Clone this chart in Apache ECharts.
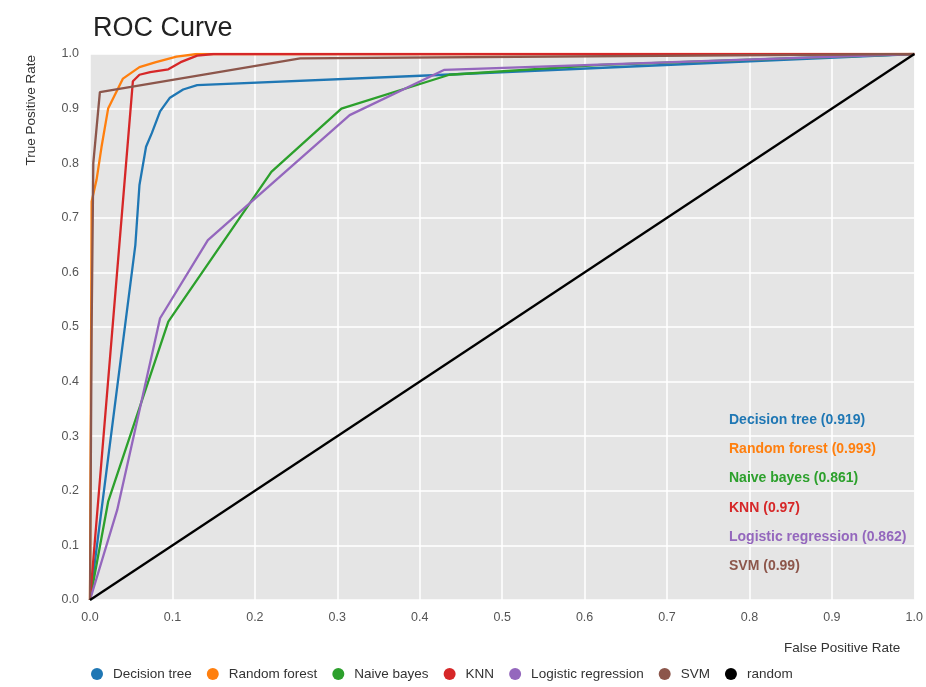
<!DOCTYPE html>
<html><head><meta charset="utf-8">
<script src="https://cdn.jsdelivr.net/npm/echarts@6/dist/echarts.min.js"></script>
<style>html,body{margin:0;padding:0;background:#fff}#c{width:926px;height:687px}</style>
</head><body><div id="c"></div>
<script>
const seriesNames = ['Decision tree','Random forest','Naive bayes','KNN','Logistic regression','SVM','random'];
const aucValues = [0.919, 0.993, 0.861, 0.97, 0.862, 0.99];
const colors = ['#1f77b4','#ff7f0e','#2ca02c','#d62728','#9467bd','#8c564b','#000000'];
const decisionTree = [[0,0],[0.055,0.65],[0.06,0.76],[0.068,0.83],[0.075,0.855],[0.085,0.895],[0.097,0.92],[0.113,0.935],[0.13,0.943],[0.43,0.962],[1,1]];
const randomForest = [[0,0],[0.002,0.73],[0.008,0.77],[0.014,0.83],[0.022,0.9],[0.04,0.955],[0.06,0.976],[0.08,0.985],[0.105,0.995],[0.13,1],[1,1]];
const naiveBayes = [[0,0],[0.022,0.18],[0.095,0.51],[0.22,0.784],[0.305,0.9],[0.436,0.962],[0.62,0.98],[1,1]];
const knn = [[0,0],[0.052,0.95],[0.06,0.962],[0.073,0.967],[0.095,0.972],[0.11,0.985],[0.13,0.997],[0.15,1],[1,1]];
const logisticRegression = [[0,0],[0.033,0.165],[0.085,0.516],[0.143,0.659],[0.315,0.888],[0.43,0.971],[1,1]];
const svm = [[0,0],[0.002,0.5],[0.004,0.8],[0.012,0.93],[0.255,0.992],[1,1]];
const randomLine = [[0,0],[1,1]];
const allData = [decisionTree, randomForest, naiveBayes, knn, logisticRegression, svm, randomLine];
const tickLabels = ['0.0','0.1','0.2','0.3','0.4','0.5','0.6','0.7','0.8','0.9','1.0'];

const chart = echarts.init(document.getElementById('c'));
const FONT = 'Liberation Sans, Arial, sans-serif';
const aucGraphics = aucValues.map((v,i)=>({
  type:'text', left:729, top:413 + i*29.3, z:100,
  style:{text: seriesNames[i] + ' (' + v + ')', fill: colors[i], font:'bold 14px ' + FONT}
}));
chart.setOption({
  animation:false,
  color: colors,
  title:{text:'ROC Curve', left:88, top:10, textStyle:{fontSize:27, fontWeight:'normal', color:'#222', fontFamily:FONT}},
  grid:{left:90, right:11, top:54, bottom:87, show:true, backgroundColor:'#e5e5e5', borderWidth:0},
  legend:{
    data: seriesNames, left:86, bottom:1, icon:'circle', itemWidth:22, itemHeight:12, itemGap:15,
    textStyle:{fontSize:13.5, color:'#333', fontFamily:FONT}
  },
  xAxis:{
    type:'value', min:0, max:1, interval:0.1,
    axisLine:{show:false}, axisTick:{show:false},
    axisLabel:{color:'#555', fontSize:12.5, fontFamily:FONT, margin:11, formatter:(v)=>tickLabels[Math.round(v*10)]},
    splitLine:{lineStyle:{color:'#ffffff', width:1.5}}
  },
  yAxis:{
    type:'value', min:0, max:1, interval:0.1,
    axisLine:{show:false}, axisTick:{show:false},
    axisLabel:{color:'#555', fontSize:12.5, fontFamily:FONT, margin:11, formatter:(v)=>tickLabels[Math.round(v*10)]},
    splitLine:{lineStyle:{color:'#ffffff', width:1.5}}
  },
  graphic: [
    {type:'text', left:784, top:641, z:100, style:{text:'False Positive Rate', fill:'#333', font:'13.5px ' + FONT}},
    {type:'text', left:24, top:55, z:100, rotation:Math.PI/2, style:{text:'True Positive Rate', fill:'#333', font:'13.5px ' + FONT}},
  ].concat(aucGraphics),
  series: allData.map((d,i)=>({
    name: seriesNames[i], type:'line', data:d, showSymbol:false, symbol:'circle',
    lineStyle:{width:2.3, color:colors[i]}, itemStyle:{color:colors[i]}, z: 2 + i
  }))
});
</script></body></html>
